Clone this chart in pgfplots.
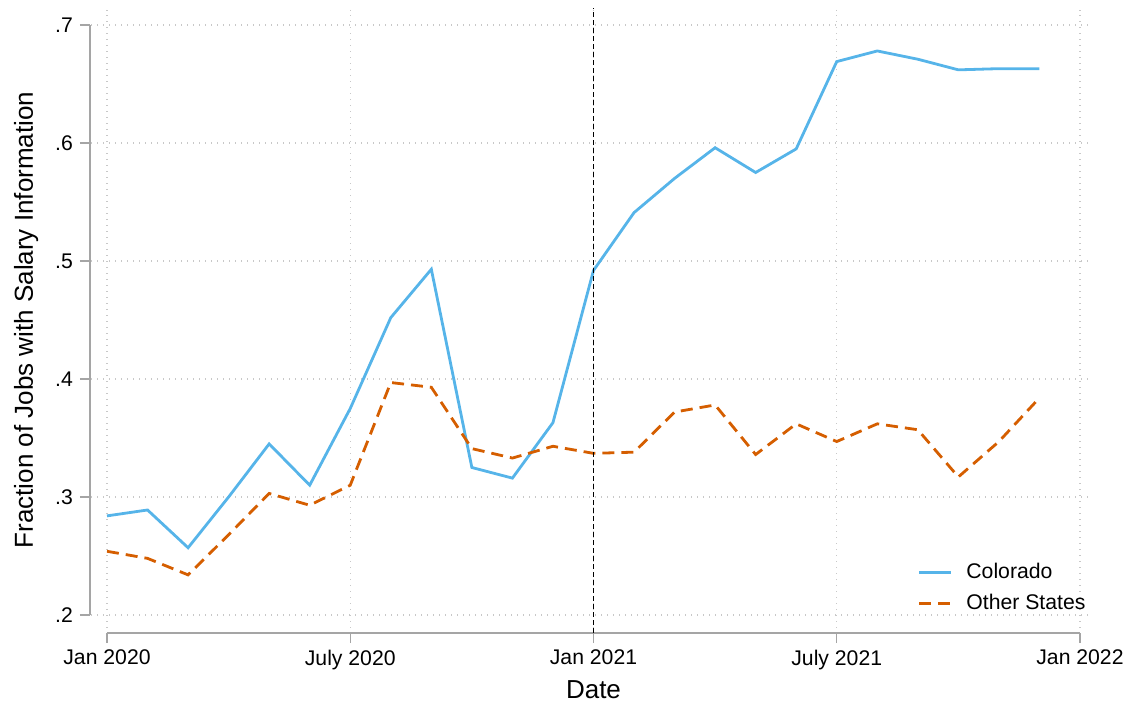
\documentclass[border=0pt]{standalone}
\usepackage{fontspec}
\setmainfont{Liberation Sans}
\usepackage{pgfplots}
\pgfplotsset{compat=1.18}
\definecolor{cosky}{RGB}{86,180,233}
\definecolor{coverm}{RGB}{213,94,0}
\definecolor{gridgray}{RGB}{200,200,200}
\definecolor{axgray}{RGB}{165,165,165}

\begin{document}
\begin{tikzpicture}
\useasboundingbox (-53.5pt,-46.5pt) rectangle (512.5pt,307.5pt);
\begin{axis}[
  at={(0,0)}, anchor=south west,
  scale only axis, width=486.5pt, height=295pt,
  xmin=0, xmax=24, ymin=0.2, ymax=0.7,
  clip=false,
  axis x line*=bottom, axis y line*=left,
  axis x line shift=9pt, axis y line shift=8.5pt,
  axis line style={axgray, line width=0.7pt, -},
  xtick={0,6,12,18,24},
  xticklabels={Jan 2020, July 2020, Jan 2021, July 2021, Jan 2022},
  ytick={0.2,0.3,0.4,0.5,0.6,0.7},
  yticklabels={.2,.3,.4,.5,.6,.7},
  tick align=outside, major tick length=5pt,
  tick style={axgray, line width=0.7pt},
  tick label style={font=\fontsize{10.6}{12}\selectfont, text=black},
  /pgf/number format/assume math mode=true,
  xlabel={Date},
  ylabel={Fraction of Jobs with Salary Information},
  label style={font=\fontsize{13}{15}\selectfont},
  xlabel style={at={(axis description cs:0.5,-0.127)}, anchor=center},
  ylabel style={at={(axis description cs:-0.0832,0.5)}, anchor=center},
  legend style={at={(axis description cs:1.0163,-0.0103)}, anchor=south east,
    draw=none, fill=none, font=\fontsize{10.6}{12}\selectfont, row sep=2.5pt},
  legend cell align=left,
  legend image code/.code={\draw[#1] (0pt,0pt) -- (16pt,0pt); \path[draw=none] (16pt,0pt) -- (21.5pt,0pt);},
]
% dotted grid, a little wider than the axis range
\pgfplotsinvokeforeach{0.2,0.3,0.4,0.5,0.6,0.7}{
  \draw[gridgray, line width=0.6pt, dash pattern=on 0.5pt off 2.5pt] (axis cs:-0.39,#1) -- (axis cs:24.3,#1);
}
\pgfplotsinvokeforeach{0,6,12,18,24}{
  \draw[gridgray, line width=0.6pt, dash pattern=on 0.5pt off 2.5pt] (axis cs:#1,0.189) -- (axis cs:#1,0.713);
}

\addplot[cosky, line width=1.4pt] coordinates {
(0,0.284) (1,0.289) (2,0.257) (3,0.300) (4,0.345) (5,0.310)
(6,0.375) (7,0.452) (8,0.493) (9,0.325) (10,0.316) (11,0.363)
(12,0.492) (13,0.541) (14,0.570) (15,0.596) (16,0.575) (17,0.595)
(18,0.669) (19,0.678) (20,0.671) (21,0.662) (22,0.663) (23,0.663)
};
\addlegendentry{Colorado}

\addplot[coverm, line width=1.4pt, dash pattern=on 6pt off 3.5pt] coordinates {
(0,0.254) (1,0.248) (2,0.234) (3,0.268) (4,0.303) (5,0.293)
(6,0.310) (7,0.397) (8,0.393) (9,0.341) (10,0.333) (11,0.343)
(12,0.337) (13,0.338) (14,0.372) (15,0.378) (16,0.336) (17,0.362)
(18,0.347) (19,0.362) (20,0.357) (21,0.317) (22,0.347) (23,0.384)
};
\addlegendentry{Other States}

% policy date
\addplot[black, line width=0.9pt, dash pattern=on 2.6pt off 1.4pt, forget plot]
  coordinates {(12,0.1847) (12,0.7144)};
\end{axis}
\end{tikzpicture}
\end{document}
